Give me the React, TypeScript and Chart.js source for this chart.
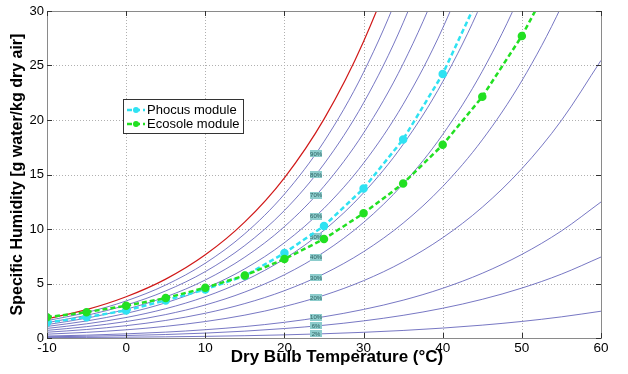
import React, { useEffect, useRef } from "react";
import { Chart, registerables } from "chart.js";

Chart.register(...registerables);

// Dry bulb temperatures (°C) at which curves are sampled
const temps = [-10, -5, 0, 5, 10, 15, 20, 25, 30, 35, 40, 45, 50, 55, 60];

// Relative-humidity curves: specific humidity (g/kg)
const rh100 = [1.76, 2.6, 3.78, 5.4, 7.63, 10.65, 14.7, 20.08, 27.2, 36.57, 48.87, null, null, null, null];
const rh90 = [1.59, 2.34, 3.4, 4.86, 6.86, 9.57, 13.2, 18.02, 24.38, 32.72, 43.64, null, null, null, null];
const rh80 = [1.41, 2.08, 3.02, 4.32, 6.09, 8.49, 11.7, 15.96, 21.57, 28.92, 38.49, 50.95, null, null, null];
const rh70 = [1.23, 1.82, 2.64, 3.77, 5.32, 7.42, 10.22, 13.92, 18.8, 25.16, 33.42, 44.13, null, null, null];
const rh60 = [1.06, 1.56, 2.26, 3.23, 4.56, 6.35, 8.74, 11.9, 16.04, 21.44, 28.43, 37.45, 49.05, null, null];
const rh50 = [0.88, 1.3, 1.88, 2.69, 3.79, 5.28, 7.26, 9.88, 13.31, 17.76, 23.51, 30.9, 40.35, null, null];
const rh40 = [0.7, 1.04, 1.51, 2.15, 3.03, 4.22, 5.8, 7.88, 10.6, 14.13, 18.67, 24.47, 31.86, 41.24, null];
const rh30 = [0.53, 0.78, 1.13, 1.61, 2.27, 3.16, 4.34, 5.89, 7.92, 10.54, 13.9, 18.18, 23.6, 30.43, 39.01];
const rh20 = [0.35, 0.52, 0.75, 1.07, 1.51, 2.1, 2.89, 3.92, 5.26, 6.99, 9.2, 12.0, 15.53, 19.96, 25.47];
const rh10 = [0.18, 0.26, 0.38, 0.54, 0.76, 1.05, 1.44, 1.95, 2.62, 3.47, 4.56, 5.94, 7.67, 9.82, 12.48];
const rh6 = [0.11, 0.16, 0.23, 0.32, 0.45, 0.63, 0.87, 1.17, 1.57, 2.08, 2.73, 3.55, 4.58, 5.86, 7.43];
const rh2 = [0.035, 0.052, 0.075, 0.107, 0.151, 0.21, 0.287, 0.39, 0.522, 0.692, 0.909, 1.18, 1.519, 1.94, 2.457];

// Curve labels placed at 24 °C
const curveLabelTemp = 24;
const curveLabels = ["90%", "80%", "70%", "60%", "50%", "40%", "30%", "20%", "10%", "6%", "2%"];
const curveLabelValues = [16.94, 15.01, 13.1, 11.19, 9.3, 7.42, 5.55, 3.69, 1.9, 1.12, 0.4];

// Measured module series
const phocusTemps = [-10, -5, 0, 5, 10, 15, 20, 25, 30, 35, 40, 45];
const phocusValues = [1.42, 1.91, 2.53, 3.45, 4.46, 5.7, 7.79, 10.28, 13.71, 18.22, 24.22, 32.0];
const ecosoleTemps = [-10, -5, 0, 5, 10, 15, 20, 25, 30, 35, 40, 45, 50, 55];
const ecosoleValues = [1.91, 2.37, 2.96, 3.66, 4.61, 5.74, 7.24, 9.08, 11.44, 14.17, 17.72, 22.13, 27.71, 34.5];

// Axis ticks
const xTicks = [-10, 0, 10, 20, 30, 40, 50, 60];
const yTicks = [0, 5, 10, 15, 20, 25, 30];

const FONT = "'Liberation Sans', Arial, Helvetica, sans-serif";
const CYAN = "#2fe2f2";
const GREEN = "#22e022";

function pts(xs: number[], ys: (number | null)[]) {
  return xs.map((x, i) => ({ x, y: ys[i] }));
}

export default function App() {
  const ref = useRef<HTMLCanvasElement | null>(null);

  useEffect(() => {
    const canvas = ref.current;
    if (!canvas) return;

    const blueCurves = [rh90, rh80, rh70, rh60, rh50, rh40, rh30, rh20, rh10, rh6, rh2];
    const curveSets: any[] = blueCurves.map((arr) => ({
      data: pts(temps, arr),
      borderColor: "rgba(85,85,180,0.8)",
      borderWidth: 1,
      pointRadius: 0,
      cubicInterpolationMode: "monotone",
      spanGaps: false,
      order: 5,
      isCurve: true,
    }));
    curveSets.unshift({
      data: pts(temps, rh100),
      borderColor: "#d01818",
      borderWidth: 1.2,
      pointRadius: 0,
      cubicInterpolationMode: "monotone",
      order: 5,
      isCurve: true,
    });

    const seriesSets: any[] = [
      {
        label: "Phocus module",
        data: pts(phocusTemps, phocusValues),
        borderColor: CYAN,
        backgroundColor: CYAN,
        borderWidth: 2.5,
        borderDash: [5, 3],
        pointRadius: 3,
        pointBackgroundColor: CYAN,
        pointBorderColor: CYAN,
        tension: 0,
        order: 1,
      },
      {
        label: "Ecosole module",
        data: pts(ecosoleTemps, ecosoleValues),
        borderColor: GREEN,
        backgroundColor: GREEN,
        borderWidth: 2.5,
        borderDash: [5, 3],
        pointRadius: 3,
        pointBackgroundColor: GREEN,
        pointBorderColor: GREEN,
        tension: 0,
        order: 0,
      },
    ];

    let labelsDrawn = false;

    const decor = {
      id: "decor",
      beforeDatasetsDraw(chart: any) {
        labelsDrawn = false;
        const { ctx, chartArea: a, scales } = chart;
        ctx.save();
        ctx.strokeStyle = "#b0b0b0";
        ctx.lineWidth = 1;
        ctx.setLineDash([1, 2]);
        xTicks.forEach((t) => {
          const x = Math.round(scales.x.getPixelForValue(t)) + 0.5;
          ctx.beginPath();
          ctx.moveTo(x, a.top);
          ctx.lineTo(x, a.bottom);
          ctx.stroke();
        });
        yTicks.forEach((t) => {
          const y = Math.round(scales.y.getPixelForValue(t)) + 0.5;
          ctx.beginPath();
          ctx.moveTo(a.left, y);
          ctx.lineTo(a.right, y);
          ctx.stroke();
        });
        ctx.restore();
      },
      beforeDatasetDraw(chart: any, args: any) {
        const ds = chart.data.datasets[args.index];
        if (ds.isCurve || labelsDrawn) return;
        labelsDrawn = true;
        const { ctx, scales } = chart;
        ctx.save();
        ctx.font = `6px ${FONT}`;
        ctx.textAlign = "center";
        ctx.textBaseline = "middle";
        curveLabels.forEach((lab, i) => {
          const x = scales.x.getPixelForValue(curveLabelTemp);
          const y = scales.y.getPixelForValue(curveLabelValues[i]);
          ctx.fillStyle = "#8ccccc";
          ctx.fillRect(Math.round(x - 6), Math.round(y - 3.5), 12, 7);
          ctx.fillStyle = "#2e6262";
          ctx.fillText(lab, x, y + 0.5);
        });
        ctx.restore();
      },
      afterDatasetsDraw(chart: any) {
        const { ctx, chartArea: a, scales } = chart;
        ctx.save();
        // Box
        ctx.strokeStyle = "#8a8a8a";
        ctx.lineWidth = 1;
        ctx.strokeRect(Math.round(a.left) + 0.5, Math.round(a.top) + 0.5, Math.round(a.right - a.left), Math.round(a.bottom - a.top));
        // Inward tick marks
        ctx.strokeStyle = "#333";
        xTicks.forEach((t) => {
          const x = Math.round(scales.x.getPixelForValue(t)) + 0.5;
          ctx.beginPath();
          ctx.moveTo(x, a.bottom);
          ctx.lineTo(x, a.bottom - 5);
          ctx.moveTo(x, a.top);
          ctx.lineTo(x, a.top + 5);
          ctx.stroke();
        });
        yTicks.forEach((t) => {
          const y = Math.round(scales.y.getPixelForValue(t)) + 0.5;
          ctx.beginPath();
          ctx.moveTo(a.left, y);
          ctx.lineTo(a.left + 5, y);
          ctx.moveTo(a.right, y);
          ctx.lineTo(a.right - 5, y);
          ctx.stroke();
        });

        // Axis titles
        ctx.fillStyle = "#000";
        ctx.textAlign = "center";
        ctx.textBaseline = "middle";
        ctx.font = `bold 17px ${FONT}`;
        ctx.fillText("Dry Bulb Temperature (°C)", 337, 357);
        ctx.save();
        ctx.font = `bold 16px ${FONT}`;
        ctx.translate(18, (a.top + a.bottom) / 2);
        ctx.rotate(-Math.PI / 2);
        ctx.fillText("Specific Humidity [g water/kg dry air]", 0, 0);
        ctx.restore();

        // Legend
        const lx = 123.5, ly = 99.5, lw = 120, lh = 34;
        ctx.fillStyle = "#fff";
        ctx.fillRect(lx, ly, lw, lh);
        ctx.strokeStyle = "#333";
        ctx.lineWidth = 1;
        ctx.strokeRect(lx, ly, lw, lh);
        seriesSets.forEach((s, i) => {
          const yy = 110 + i * 14;
          ctx.strokeStyle = s.borderColor;
          ctx.lineWidth = 2.5;
          ctx.setLineDash([5, 3]);
          ctx.beginPath();
          ctx.moveTo(127, yy);
          ctx.lineTo(145, yy);
          ctx.stroke();
          ctx.setLineDash([]);
          ctx.fillStyle = s.borderColor;
          ctx.beginPath();
          ctx.arc(136, yy, 3, 0, Math.PI * 2);
          ctx.fill();
          ctx.fillStyle = "#000";
          ctx.font = `13px ${FONT}`;
          ctx.textAlign = "left";
          ctx.textBaseline = "middle";
          ctx.fillText(s.label, 147, yy + 0.5);
        });
        ctx.restore();
      },
    };

    const chart = new Chart(canvas, {
      type: "line",
      data: { datasets: [...curveSets, ...seriesSets] },
      options: {
        responsive: false,
        animation: false,
        devicePixelRatio: 1,
        layout: { padding: { top: 11, right: 27, left: 0, bottom: 0 } },
        plugins: { legend: { display: false }, tooltip: { enabled: false }, title: { display: false } },
        scales: {
          x: {
            type: "linear",
            min: -10,
            max: 60,
            afterFit: (s: any) => { s.height = 36; },
            afterBuildTicks: (s: any) => { s.ticks = xTicks.map((v) => ({ value: v })); },
            ticks: { color: "#000", font: { size: 13.5, family: FONT }, padding: 2, maxRotation: 0 },
            grid: { display: false, drawTicks: false },
            border: { display: false },
          },
          y: {
            type: "linear",
            min: 0,
            max: 30,
            afterFit: (s: any) => { s.width = 47; },
            afterBuildTicks: (s: any) => { s.ticks = yTicks.map((v) => ({ value: v })); },
            ticks: { color: "#000", font: { size: 13, family: FONT }, padding: 3 },
            grid: { display: false, drawTicks: false },
            border: { display: false },
          },
        },
      },
      plugins: [decor],
    } as any);

    return () => chart.destroy();
  }, []);

  return (
    <div style={{ position: "fixed", left: 0, top: 0, width: 628, height: 374, background: "#fff" }}>
      <canvas ref={ref} width={628} height={374} style={{ display: "block", width: 628, height: 374 }} />
    </div>
  );
}
